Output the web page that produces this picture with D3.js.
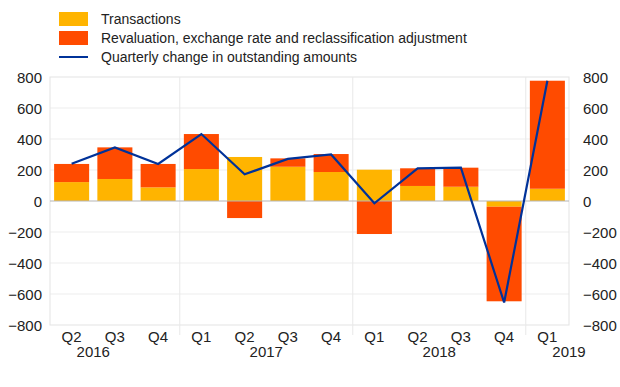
<!DOCTYPE html>
<html>
<head>
<meta charset="utf-8">
<script src="https://cdn.jsdelivr.net/npm/d3@7"></script>
<style>
  body { margin: 0; background: #fff; }
  svg text { font-family: "Liberation Sans", Arial, sans-serif; fill: #222; }
</style>
</head>
<body>
<svg id="chart" width="620" height="387"></svg>
<script>
/*******************************************************************************************/
// Data

var quarters = ['Q2','Q3','Q4','Q1','Q2','Q3','Q4','Q1','Q2','Q3','Q4','Q1'];
var years = ['2016','2017','2018','2019'];
var yearStart = [-1, 3, 7, 11];      // index of first quarter slot in each year
var transactions = [122, 142, 88, 206, 284, 221, 187, 202, 97, 92, -37, 79];
var revaluation  = [117, 204, 151, 226, -110, 54, 116, -213, 114, 123, -610, 697];
var change       = [240, 346, 239, 432, 172, 272, 300, -15, 211, 215, -655, 776];
var yTicks = [-800, -600, -400, -200, 0, 200, 400, 600, 800];
var legendItems = ['Transactions', 'Revaluation, exchange rate and reclassification adjustment', 'Quarterly change in outstanding amounts'];
var colors = { trans: '#FFB400', reval: '#FF4B00', line: '#003299' };

/*******************************************************************************************/
// Scales

var plotLeft = 50, plotRight = 569, plotTop = 77, plotBottom = 325;
var svg = d3.select('#chart');

var idx = d3.range(quarters.length);
var xScale = d3.scaleBand().domain(idx).range([plotLeft, plotRight]).paddingInner(0.19).paddingOuter(0.095);
var step = xScale.step();
var yScale = d3.scaleLinear().domain([-800, 800]).range([plotBottom, plotTop]);

/*******************************************************************************************/
// Grid and frame

var grid = svg.append('g');
grid.selectAll('line.h').data(yTicks.filter(function(t){ return t != 0 && Math.abs(t) != 800; })).enter()
  .append('line').attr('x1', plotLeft).attr('x2', plotRight)
  .attr('y1', function(d){ return yScale(d); }).attr('y2', function(d){ return yScale(d); })
  .style('stroke', '#ededed');
grid.append('rect').attr('x', plotLeft).attr('y', plotTop).attr('width', plotRight - plotLeft).attr('height', plotBottom - plotTop)
  .style('fill', 'none').style('stroke', '#e3e3e3');
grid.selectAll('line.v').data(yearStart.slice(1)).enter()
  .append('line')
  .attr('x1', function(d){ return plotLeft + d * step; }).attr('x2', function(d){ return plotLeft + d * step; })
  .attr('y1', plotTop).attr('y2', plotBottom + 10)
  .style('stroke', '#e8e8e8');

/*******************************************************************************************/
// Stacked bars

var rows = idx.map(function(i){ return { i: i, trans: transactions[i], reval: revaluation[i] }; });
var series = d3.stack().keys(['trans', 'reval']).offset(d3.stackOffsetDiverging)(rows);

svg.append('g').selectAll('g').data(series).enter()
  .append('g').style('fill', function(s){ return colors[s.key]; })
  .selectAll('rect').data(function(s){ return s; }).enter()
  .append('rect')
  .attr('x', function(d){ return xScale(d.data.i); })
  .attr('width', xScale.bandwidth())
  .attr('y', function(d){ return yScale(Math.max(d[0], d[1])); })
  .attr('height', function(d){ return Math.abs(yScale(d[0]) - yScale(d[1])); });

// zero line
svg.append('line').attr('x1', plotLeft).attr('x2', plotRight).attr('y1', yScale(0)).attr('y2', yScale(0))
  .style('stroke', '#b5b5b5').style('stroke-width', 1.2);

/*******************************************************************************************/
// Line

var lineGen = d3.line()
  .x(function(d, i){ return xScale(i) + xScale.bandwidth() / 2; })
  .y(function(d){ return yScale(d); });
svg.append('path').datum(change).attr('d', lineGen)
  .style('fill', 'none').style('stroke', colors.line).style('stroke-width', 2.2);

/*******************************************************************************************/
// Axes

svg.append('g').attr('transform', 'translate(' + (plotLeft - 8) + ',0)')
  .call(d3.axisLeft(yScale).tickValues(yTicks).tickSize(0).tickPadding(0))
  .call(function(g){ g.select('.domain').remove(); })
  .selectAll('text').style('font-size', '15px').attr('dy', '0.35em');

svg.append('g').attr('transform', 'translate(' + (plotRight + 14) + ',0)')
  .call(d3.axisRight(yScale).tickValues(yTicks).tickSize(0).tickPadding(0))
  .call(function(g){ g.select('.domain').remove(); })
  .selectAll('text').style('font-size', '15px').attr('dy', '0.35em');

svg.append('g').selectAll('text').data(quarters).enter()
  .append('text')
  .attr('x', function(d, i){ return xScale(i) + xScale.bandwidth() / 2; })
  .attr('y', 342)
  .style('text-anchor', 'middle').style('font-size', '15px')
  .text(function(d){ return d; });

svg.append('g').selectAll('text').data(years).enter()
  .append('text')
  .attr('x', function(d, i){ return Math.min(plotRight, plotLeft + (yearStart[i] + 2) * step); })
  .attr('y', 357)
  .style('text-anchor', 'middle').style('font-size', '15px')
  .text(function(d){ return d; });

/*******************************************************************************************/
// Legend

var legend = svg.append('g');
legendItems.forEach(function(label, i){
  var cy = 19 + i * 19;
  if (i < 2) {
    legend.append('rect').attr('x', 59).attr('y', cy - 7).attr('width', 29).attr('height', 14)
      .style('fill', i == 0 ? colors.trans : colors.reval);
  } else {
    legend.append('line').attr('x1', 59).attr('x2', 88).attr('y1', cy).attr('y2', cy)
      .style('stroke', colors.line).style('stroke-width', 2);
  }
  legend.append('text').attr('x', 101).attr('y', cy).attr('dy', '0.35em')
    .style('font-size', '14px').text(label);
});
</script>
</body>
</html>
